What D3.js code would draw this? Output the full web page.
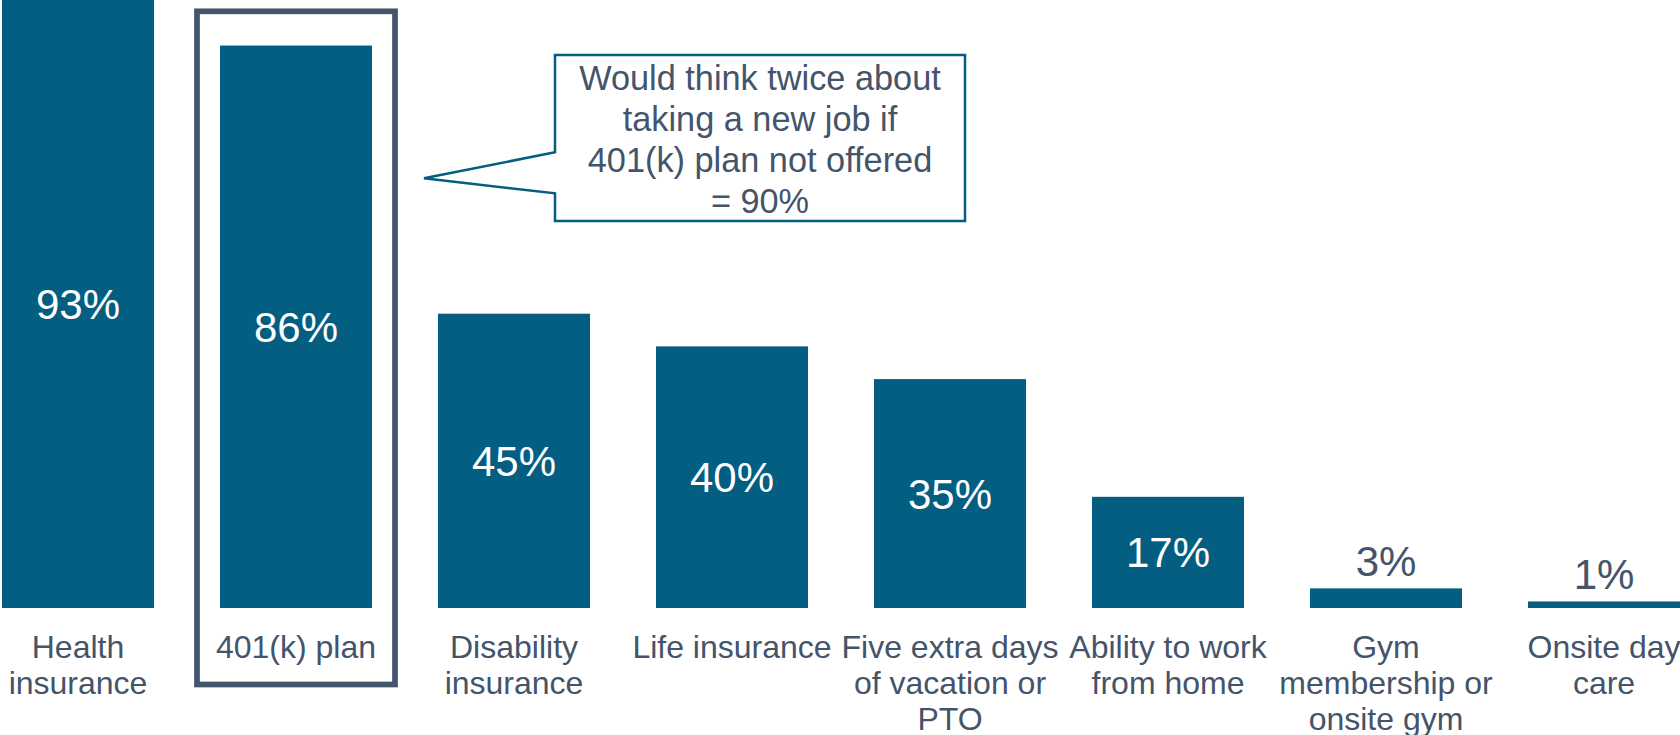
<!DOCTYPE html>
<html>
<head>
<meta charset="utf-8">
<script src="https://cdn.jsdelivr.net/npm/d3@7"></script>
<style>
  html, body { margin: 0; padding: 0; background: #ffffff; overflow: hidden; }
  svg { display: block; font-family: "Liberation Sans", Arial, Helvetica, sans-serif; }
</style>
</head>
<body>
<svg id="chart" width="1680" height="735"></svg>
<script>
// Benefits that matter most to employees (share of respondents)
const categories = [
  "Health insurance",
  "401(k) plan",
  "Disability insurance",
  "Life insurance",
  "Five extra days of vacation or PTO",
  "Ability to work from home",
  "Gym membership or onsite gym",
  "Onsite day care"
];
const values = [93, 86, 45, 40, 35, 17, 3, 1];
const highlighted = "401(k) plan";
const calloutLines = [
  "Would think twice about",
  "taking a new job if",
  "401(k) plan not offered",
  "= 90%"
];

const W = 1680, H = 735;
const barColor = "#035e81";
const textColor = "#44546a";
const baseline = 608;

const svg = d3.select("#chart");

const x = d3.scaleBand()
  .domain(categories)
  .range([-31, 1713])
  .paddingInner(0.3028)
  .paddingOuter(0.1514);

const y = d3.scaleLinear()
  .domain([0, 100])
  .range([baseline, baseline - 654]);

const data = categories.map((c, i) => ({ cat: c, val: values[i] }));

// Bars
svg.append("g")
  .selectAll("rect")
  .data(data)
  .join("rect")
  .attr("x", d => x(d.cat))
  .attr("y", d => y(d.val))
  .attr("width", x.bandwidth())
  .attr("height", d => y(0) - y(d.val))
  .attr("fill", barColor);

// Value labels: centred inside tall bars, above short ones
svg.append("g")
  .selectAll("text")
  .data(data)
  .join("text")
  .attr("x", d => x(d.cat) + x.bandwidth() / 2)
  .attr("y", d => {
    const h = y(0) - y(d.val);
    return h > 60 ? y(d.val) + h / 2 + 15 : y(d.val) - 12;
  })
  .attr("text-anchor", "middle")
  .attr("font-size", 42)
  .attr("fill", d => (y(0) - y(d.val) > 60 ? "#ffffff" : textColor))
  .text(d => d.val + "%");

// Category axis labels, wrapped to the band step
const axis = svg.append("g");
function wrap(textSel, width) {
  textSel.each(function () {
    const t = d3.select(this);
    const words = t.text().split(/\s+/);
    const cx = +t.attr("x");
    const y0 = +t.attr("y");
    const lh = 36;
    t.text(null);
    let line = [];
    let lineNo = 0;
    let tspan = t.append("tspan").attr("x", cx).attr("y", y0);
    for (const w of words) {
      line.push(w);
      tspan.text(line.join(" "));
      if (tspan.node().getComputedTextLength() > width && line.length > 1) {
        line.pop();
        tspan.text(line.join(" "));
        line = [w];
        lineNo++;
        tspan = t.append("tspan").attr("x", cx).attr("y", y0 + lineNo * lh).text(w);
      }
    }
  });
}
axis.selectAll("text")
  .data(categories)
  .join("text")
  .attr("x", d => x(d) + x.bandwidth() / 2)
  .attr("y", 658)
  .attr("text-anchor", "middle")
  .attr("font-size", 32)
  .attr("fill", textColor)
  .text(d => d)
  .call(wrap, 220);

// Highlight frame around the 401(k) column
const hx = x(highlighted);
svg.append("rect")
  .attr("x", hx - 23)
  .attr("y", 11.3)
  .attr("width", x.bandwidth() + 46)
  .attr("height", 684.5 - 11.3)
  .attr("fill", "none")
  .attr("stroke", textColor)
  .attr("stroke-width", 5.7);

// Callout box with pointer toward the highlighted column
const box = { l: 555, r: 965, t: 55, b: 221 };
const tip = { x: hx + x.bandwidth() + 52, y: 178.3 };
const path = d3.path();
path.moveTo(box.l, box.t);
path.lineTo(box.r, box.t);
path.lineTo(box.r, box.b);
path.lineTo(box.l, box.b);
path.lineTo(box.l, 193.3);
path.lineTo(tip.x, tip.y);
path.lineTo(box.l, 152.3);
path.closePath();
svg.append("path")
  .attr("d", path.toString())
  .attr("fill", "#ffffff")
  .attr("stroke", barColor)
  .attr("stroke-width", 2.5)
  .attr("stroke-linejoin", "miter");

svg.append("g")
  .selectAll("text")
  .data(calloutLines)
  .join("text")
  .attr("x", (box.l + box.r) / 2)
  .attr("y", (d, i) => 90 + i * 41.1)
  .attr("text-anchor", "middle")
  .attr("font-size", 34.3)
  .attr("fill", textColor)
  .text(d => d);
</script>
</body>
</html>
